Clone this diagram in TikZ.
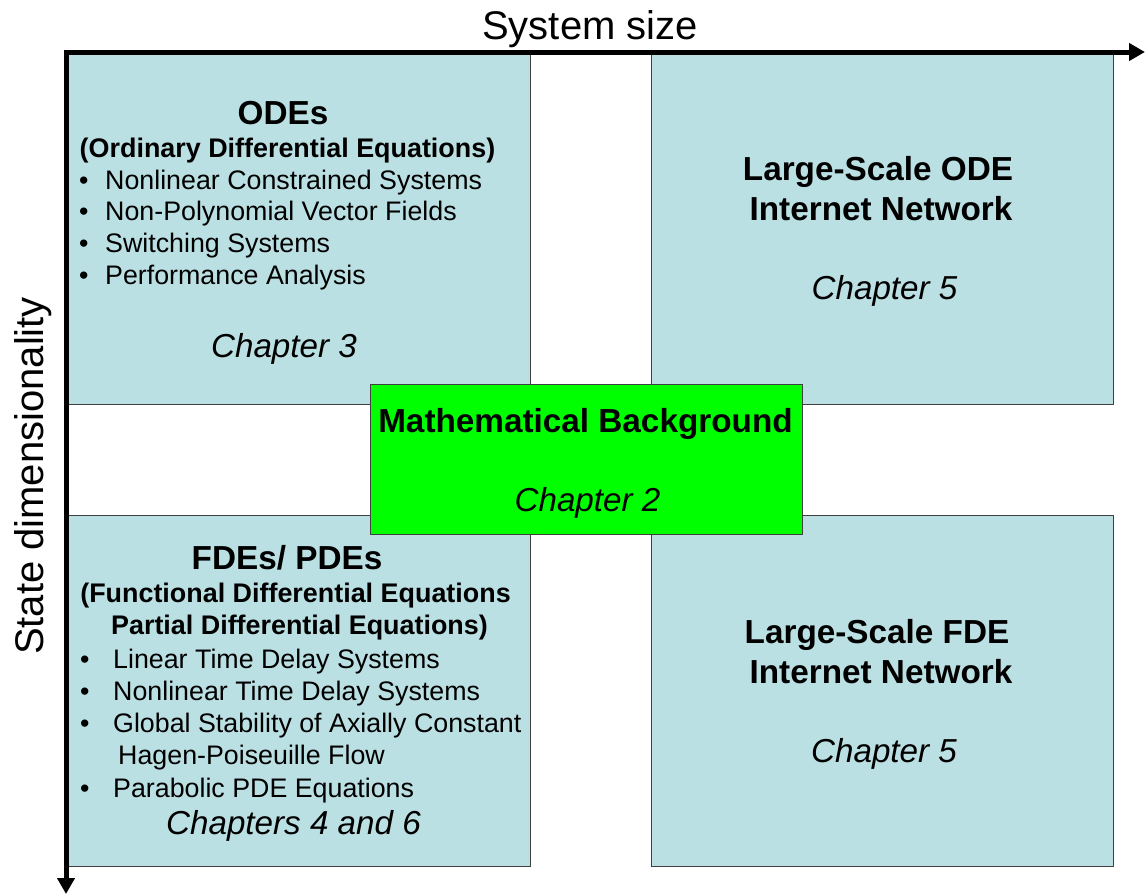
\documentclass[tikz,border=0pt]{standalone}
\usepackage{fontspec}
\setmainfont{Liberation Sans}
\usetikzlibrary{arrows.meta}

\definecolor{quadblue}{RGB}{187,224,227}
\definecolor{mathgreen}{RGB}{0,255,0}

\begin{document}
\begin{tikzpicture}[x=1pt,y=-1pt,
    quad/.style={rectangle,draw=black!75,fill=quadblue,line width=1pt,inner sep=0pt},
    mathbox/.style={rectangle,draw=black!75,fill=mathgreen,line width=1pt,inner sep=0pt,
      minimum width=432pt,minimum height=150pt},
    axis/.style={line width=5pt,line join=miter,{Triangle[length=16pt,width=17pt]}-{Triangle[length=16pt,width=17pt]}},
    title/.style={anchor=base,inner sep=0pt,font=\fontsize{33.3}{38}\selectfont\bfseries},
    subtitle/.style={anchor=base,inner sep=0pt,font=\fontsize{26.9}{32}\selectfont\bfseries},
    item/.style={anchor=base west,inner sep=0pt,font=\fontsize{26.8}{32}\selectfont},
    chapter/.style={anchor=base,inner sep=0pt,font=\fontsize{33.2}{38}\selectfont\itshape},
    axislabel/.style={anchor=base,inner sep=0pt,font=\fontsize{40}{46}\selectfont}]
  \path[use as bounding box] (0,0) rectangle (1147,895);

  % quadrants
  \path
  (299,228) node [quad,minimum width=462pt,minimum height=352pt] (odebox) {}
  (882,228) node [quad,minimum width=462pt,minimum height=352pt] (lsodebox) {}
  (299,690.5) node [quad,minimum width=462pt,minimum height=351pt] (fdebox) {}
  (882,690.5) node [quad,minimum width=462pt,minimum height=351pt] (lsfdebox) {}
  (586,459) node [mathbox] (mathbg) {};

  % axes
  \coordinate (origin) at (66,52);
  \coordinate (xend) at (1145,52);
  \coordinate (yend) at (66,894);
  \draw[axis] (yend) -- (origin) -- (xend);
  \node[axislabel] (xlabel) at (590,39) {System size};
  \node[axislabel,rotate=90] (ylabel) at (43,476) {State dimensionality};

  % ODEs
  \node[title] (odetitle) at (283,124) {ODEs};
  \node[subtitle] (odesub) at (287.5,157) {(Ordinary Differential Equations)};
  \foreach \txt [count=\i] in {Nonlinear Constrained Systems,
      Non-Polynomial Vector Fields,Switching Systems,Performance Analysis}
    \node[item] (odeitem\i) at (79,157.3+31.7*\i) {\makebox[26pt][l]{\textbullet}\txt};
  \node[chapter] (odechap) at (284,357) {Chapter 3};

  % large-scale ODE
  \node[title] (lsodetitle) at (878,180) {Large-Scale ODE};
  \node[title] (lsodenet) at (881,220) {Internet Network};
  \node[chapter] (lsodechap) at (884.5,299) {Chapter 5};

  % mathematical background
  \node[title] (mathtitle) at (585.5,432) {Mathematical Background};
  \node[chapter] (mathchap) at (587.5,511) {Chapter 2};

  % FDEs/ PDEs
  \node[title] (fdetitle) at (287,569) {FDEs/ PDEs};
  \node[subtitle] (fdesub) at (295.5,602) {(Functional Differential Equations};
  \node[subtitle] (pdesub) at (299.5,634) {Partial Differential Equations)};
  \node[item] (fdeitem1) at (80,668) {\makebox[33pt][l]{\textbullet}Linear Time Delay Systems};
  \node[item] (fdeitem2) at (80,700) {\makebox[33pt][l]{\textbullet}Nonlinear Time Delay Systems};
  \node[item] (fdeitem3) at (80,732) {\makebox[33pt][l]{\textbullet}Global Stability of Axially Constant};
  \node[item] (fdeitem3b) at (118,764) {Hagen-Poiseuille Flow};
  \node[item] (fdeitem4) at (80,797) {\makebox[33pt][l]{\textbullet}Parabolic PDE Equations};
  \node[chapter] (fdechap) at (293.5,834) {Chapters 4 and 6};

  % large-scale FDE
  \node[title] (lsfdetitle) at (877,643) {Large-Scale FDE};
  \node[title] (lsfdenet) at (881,683) {Internet Network};
  \node[chapter] (lsfdechap) at (884,762) {Chapter 5};
\end{tikzpicture}
\end{document}
